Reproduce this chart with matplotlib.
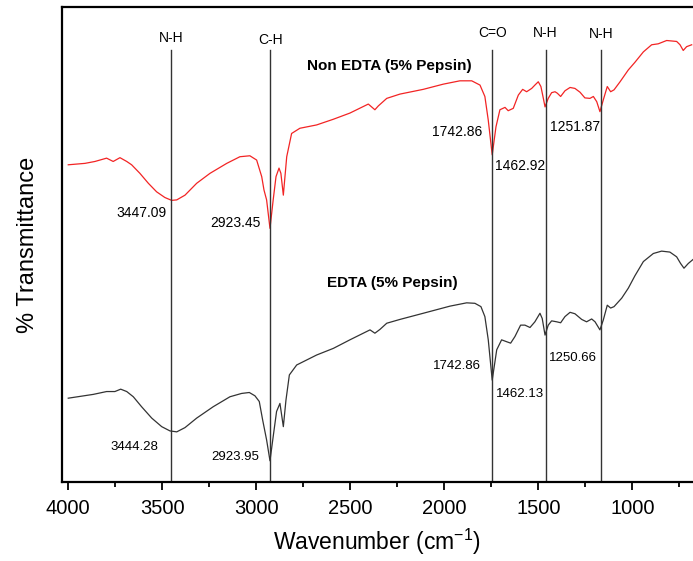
import matplotlib
matplotlib.use("Agg")
import matplotlib.pyplot as plt
from matplotlib.ticker import MultipleLocator

plt.rcParams['font.family'] = ['Liberation Sans', 'DejaVu Sans']
plt.rcParams['mathtext.default'] = 'regular'

# FTIR spectrum, Non EDTA (5% Pepsin)
wn_red = [4000, 3911, 3858, 3796, 3761, 3725, 3689, 3663, 3619, 3574, 3530, 3486,
          3450, 3423, 3379, 3317, 3246, 3157, 3087, 3034, 2998, 2971, 2959, 2945,
          2927, 2910, 2895, 2879, 2869, 2856, 2838, 2812, 2768, 2679, 2590, 2502,
          2404, 2369, 2351, 2306, 2236, 2112, 2005, 1917, 1854, 1810, 1784, 1766,
          1745, 1725, 1704, 1677, 1660, 1633, 1606, 1583, 1562, 1535, 1518, 1500,
          1486, 1473, 1464, 1447, 1429, 1411, 1399, 1381, 1358, 1331, 1305, 1278,
          1252, 1225, 1207, 1189, 1172, 1154, 1133, 1115, 1097, 1065, 1021, 986,
          941, 897, 862, 817, 764, 746, 729, 711, 684]
t_red = [66.8, 67.1, 67.5, 68.2, 67.5, 68.3, 67.5, 66.8, 65.0, 62.9, 61.1, 59.9,
         59.3, 59.4, 60.4, 62.9, 65.0, 67.1, 68.5, 68.7, 67.8, 64.3, 61.5, 59.4,
         53.4, 59.4, 64.3, 66.1, 65.0, 60.4, 68.5, 73.4, 74.5, 75.2, 76.4, 77.7,
         79.6, 78.4, 79.2, 80.8, 81.7, 82.7, 83.8, 84.5, 84.5, 83.6, 81.2, 76.2,
         68.9, 74.8, 78.4, 78.9, 78.2, 78.7, 81.5, 82.7, 82.2, 82.9, 83.6, 84.3,
         83.3, 80.8, 79.0, 80.8, 82.0, 82.2, 81.9, 81.2, 82.4, 83.1, 82.9, 82.1,
         80.9, 80.8, 81.2, 80.1, 78.0, 80.5, 83.3, 82.2, 82.6, 84.3, 86.8, 88.4,
         90.6, 92.1, 92.3, 93.0, 92.8, 92.1, 90.9, 91.7, 92.1]

# FTIR spectrum, EDTA (5% Pepsin)
wn_blk = [4000, 3867, 3796, 3752, 3721, 3689, 3654, 3610, 3556, 3503, 3459, 3423,
          3379, 3317, 3229, 3140, 3078, 3037, 3007, 2984, 2966, 2945, 2927, 2910,
          2892, 2874, 2856, 2842, 2824, 2785, 2679, 2590, 2502, 2395, 2369, 2342,
          2306, 2236, 2112, 1970, 1881, 1837, 1805, 1784, 1766, 1745, 1721, 1695,
          1668, 1647, 1624, 1594, 1571, 1544, 1518, 1491, 1479, 1464, 1447, 1429,
          1402, 1381, 1358, 1331, 1305, 1269, 1243, 1216, 1198, 1172, 1154, 1133,
          1115, 1097, 1056, 1021, 986, 941, 888, 844, 800, 764, 743, 725, 702, 675]
t_blk = [17.6, 18.4, 19.0, 19.0, 19.5, 19.0, 17.9, 15.8, 13.4, 11.6, 10.7, 10.5,
         11.4, 13.4, 15.8, 17.9, 18.6, 18.8, 18.1, 16.9, 13.0, 8.8, 4.4, 9.5,
         14.8, 16.5, 11.6, 17.2, 22.5, 24.6, 26.7, 28.1, 29.9, 32.0, 31.3, 32.1,
         33.4, 34.2, 35.5, 37.0, 37.7, 37.6, 36.9, 34.8, 29.9, 21.4, 27.8, 29.9,
         29.5, 29.2, 30.6, 33.0, 33.0, 32.5, 33.7, 35.5, 34.4, 30.9, 33.0, 33.9,
         33.7, 33.5, 34.8, 35.7, 35.4, 34.2, 33.7, 34.3, 33.7, 32.0, 34.1, 37.2,
         36.6, 36.9, 38.7, 40.8, 43.4, 46.4, 48.1, 48.6, 48.4, 47.4, 46.0, 45.0,
         46.0, 46.9]

# band marker lines
band_pos = [3454, 2926, 1745, 1461, 1168]
band_names = ['N-H', 'C-H', 'C=O', 'N-H', 'N-H']
band_name_y = [93.6, 93.0, 94.5, 94.6, 94.3]

# peak labels: text, x, y
red_peaks = ['3447.09', '2923.45', '1742.86', '1462.92', '1251.87']
red_peak_x = [3608, 3111, 1931, 1594, 1306]
red_peak_y = [56.6, 54.5, 73.8, 66.6, 74.7]
blk_peaks = ['3444.28', '2923.95', '1742.86', '1462.13', '1250.66']
blk_peak_x = [3647, 3111, 1931, 1599, 1314]
blk_peak_y = [7.4, 5.1, 24.4, 18.5, 26.0]

fig = plt.figure(figsize=(6.93, 5.61), dpi=100)
ax = fig.add_axes([0.089, 0.1414, 0.911, 0.8456])

ax.plot(wn_red, t_red, color='#f22424', lw=0.9)
ax.plot(wn_blk, t_blk, color='#333333', lw=0.9)

for x, name, ny in zip(band_pos, band_names, band_name_y):
    ax.plot([x, x], [0, 91.0], color='#333333', lw=1.0)
    ax.text(x, ny, name, ha='center', va='center', fontsize=10)

for s, x, y in zip(red_peaks, red_peak_x, red_peak_y):
    ax.text(x, y, s, ha='center', va='center', fontsize=10)
for s, x, y in zip(blk_peaks, blk_peak_x, blk_peak_y):
    ax.text(x, y, s, ha='center', va='center', fontsize=9.5)

ax.text(2294, 87.6, 'Non EDTA (5% Pepsin)', ha='center', va='center',
        fontsize=11, fontweight='bold')
ax.text(2279, 41.9, 'EDTA (5% Pepsin)', ha='center', va='center',
        fontsize=11, fontweight='bold')

ax.set_xlim(4035, 677)
ax.set_ylim(0, 100)
ax.xaxis.set_major_locator(MultipleLocator(500))
ax.xaxis.set_minor_locator(MultipleLocator(250))
ax.tick_params(axis='x', which='major', direction='out', length=5.5, width=1.3,
               labelsize=14.5, pad=7)
ax.tick_params(axis='x', which='minor', direction='out', length=3.5, width=1.3)
ax.set_yticks([])
ax.spines['right'].set_visible(False)
for sp in ['left', 'bottom', 'top']:
    ax.spines[sp].set_linewidth(1.6)

ax.set_xlabel('Wavenumber (cm$^{-1}$)', fontsize=16.5, labelpad=6)
ax.set_ylabel('% Transmittance', fontsize=17, labelpad=16)

fig.savefig('out.png', dpi=100)
